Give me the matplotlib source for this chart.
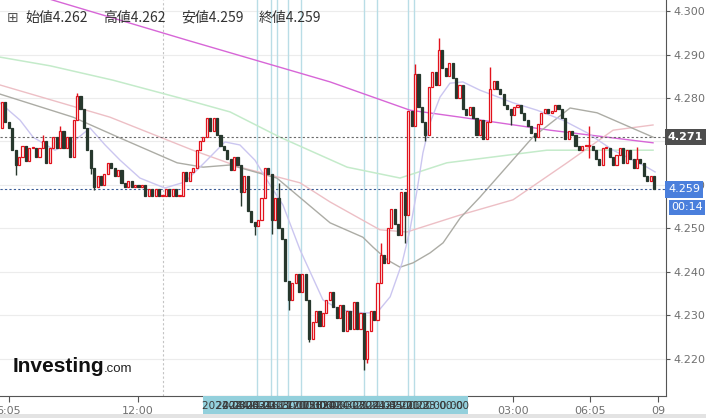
import matplotlib.pyplot as plt
import matplotlib.transforms as mtransforms
from matplotlib.patches import Rectangle

# candle closes (open = previous close)
open0 = 4.2730
close = [
    4.2790, 4.2745, 4.2730, 4.2680, 4.2645, 4.2665, 4.2690, 4.2655, 4.2685, 4.2685,
    4.2665, 4.2685, 4.2700, 4.2650, 4.2685, 4.2710, 4.2685, 4.2725, 4.2685, 4.2710,
    4.2665, 4.2750, 4.2805, 4.2775, 4.2730, 4.2680, 4.2640, 4.2595, 4.2620, 4.2600,
    4.2625, 4.2650, 4.2640, 4.2620, 4.2635, 4.2605, 4.2595, 4.2610, 4.2595, 4.2600,
    4.2595, 4.2600, 4.2575, 4.2590, 4.2575, 4.2590, 4.2575, 4.2575, 4.2590, 4.2575,
    4.2590, 4.2575, 4.2575, 4.2630, 4.2610, 4.2630, 4.2640, 4.2680, 4.2700, 4.2710,
    4.2755, 4.2725, 4.2755, 4.2715, 4.2690, 4.2680, 4.2660, 4.2635, 4.2665, 4.2645,
    4.2585, 4.2620, 4.2540, 4.2515, 4.2505, 4.2520, 4.2570, 4.2640, 4.2625, 4.2520,
    4.2570, 4.2500, 4.2475, 4.2380, 4.2335, 4.2375, 4.2395, 4.2355, 4.2395, 4.2335,
    4.2245, 4.2285, 4.2310, 4.2275, 4.2305, 4.2335, 4.2355, 4.2320, 4.2295, 4.2325,
    4.2265, 4.2310, 4.2270, 4.2330, 4.2270, 4.2305, 4.2200, 4.2265, 4.2310, 4.2290,
    4.2375, 4.2440, 4.2420, 4.2500, 4.2545, 4.2510, 4.2485, 4.2585, 4.2530, 4.2770,
    4.2735, 4.2855, 4.2780, 4.2745, 4.2715, 4.2825, 4.2860, 4.2830, 4.2910, 4.2870,
    4.2850, 4.2880, 4.2845, 4.2800, 4.2830, 4.2775, 4.2760, 4.2780, 4.2755, 4.2715,
    4.2750, 4.2705, 4.2745, 4.2820, 4.2840, 4.2820, 4.2810, 4.2785, 4.2775, 4.2760,
    4.2780, 4.2785, 4.2765, 4.2750, 4.2735, 4.2720, 4.2710, 4.2740, 4.2765, 4.2775,
    4.2765, 4.2770, 4.2785, 4.2775, 4.2755, 4.2705, 4.2725, 4.2715, 4.2690, 4.2680,
    4.2690, 4.2690, 4.2690, 4.2680, 4.2660, 4.2645, 4.2685, 4.2685, 4.2665, 4.2645,
    4.2670, 4.2685, 4.2650, 4.2680, 4.2660, 4.2640, 4.2660, 4.2650, 4.2620, 4.2610,
    4.2620, 4.2590,
]
# visible wicks only where they stick out of the body
wick_high = {3: 4.2712, 12: 4.2715, 17: 4.2735, 22: 4.2812, 81: 4.2605, 111: 4.2467,
             121: 4.2878, 128: 4.2938, 143: 4.2872, 172: 4.2735, 186: 4.2688}
wick_low = {4: 4.2622, 26: 4.2625, 27: 4.2588, 70: 4.2552, 74: 4.2484, 79: 4.2488,
            84: 4.2312, 90: 4.2238, 106: 4.2175, 107: 4.2190, 118: 4.2467, 124: 4.2700,
            149: 4.2738, 156: 4.2700, 172: 4.2662}

# moving averages (candle index, price)
ma_fast_x = [-0.6, 5.3, 9.1, 15.5, 21.4, 25.8, 30.2, 34.6, 40.4, 47.7, 53.6, 59.5, 65.3, 69.7,
             74.1, 78.5, 82.3, 87.3, 94.0, 99.0, 105.7, 109.8, 113.7, 117.2, 119.5, 121.6,
             123.3, 125.4, 128.3, 131.2, 135.0, 140.0, 149.7, 156.7, 164.3, 171.4, 179.0,
             188.9, 191.3]
ma_fast_y = [4.2789, 4.2749, 4.2710, 4.2680, 4.2703, 4.2731, 4.2692, 4.2657, 4.2616, 4.2593,
             4.2607, 4.2653, 4.2699, 4.2692, 4.2657, 4.2600, 4.2554, 4.2451, 4.2336, 4.2313,
             4.2306, 4.2306, 4.2343, 4.2421, 4.2497, 4.2589, 4.2674, 4.2743, 4.2802, 4.2834,
             4.2837, 4.2818, 4.2789, 4.2772, 4.2749, 4.2720, 4.2680, 4.2641, 4.2630]
ma_gray_x = [-0.6, 20.8, 34.6, 51.3, 58.9, 66.8, 80.5, 96.1, 105.7, 108.7, 112.8, 116.6,
             120.4, 125.4, 129.2, 134.2, 140.0, 155.5, 166.4, 174.3, 190.7]
ma_gray_y = [4.2809, 4.2756, 4.2708, 4.2651, 4.2641, 4.2646, 4.2616, 4.2513, 4.2480, 4.2457,
             4.2428, 4.2411, 4.2421, 4.2444, 4.2467, 4.2524, 4.2572, 4.2710, 4.2777, 4.2766,
             4.2710]
ma_pink_x = [-0.6, 31.6, 55.9, 69.7, 87.3, 96.1, 110.7, 118.6, 134.2, 149.7, 165.5, 179.0, 190.7]
ma_pink_y = [4.2830, 4.2756, 4.2680, 4.2641, 4.2605, 4.2561, 4.2497, 4.2492, 4.2531, 4.2566,
             4.2651, 4.2726, 4.2738]
ma_green_x = [-0.6, 14.1, 32.5, 52.1, 66.8, 81.4, 101.1, 116.6, 130.3, 159.6, 190.7]
ma_green_y = [4.2894, 4.2874, 4.2841, 4.2800, 4.2768, 4.2710, 4.2641, 4.2616, 4.2651, 4.2680,
              4.2680]
ma_slow_x = [-2.0, 14.9, 54.2, 96.1, 119.5, 134.2, 160.5, 190.7]
ma_slow_y = [4.3067, 4.3025, 4.2933, 4.2837, 4.2772, 4.2756, 4.2726, 4.2697]

# economic events (candle index) and their labels
event_pos = [74.8, 78.7, 80.5, 83.9, 87.6, 106.1, 109.8, 119.0, 120.8]
event_labels = ["2024-03-21 16:30:00", "2024-03-21 17:00:00", "2024-03-21 17:15:00",
                "2024-03-21 17:30:00", "2024-03-21 18:00:00", "2024-03-21 21:45:00",
                "2024-03-21 22:00:00", "2024-03-21 23:00:00", "2024-03-21 23:00:00"]
day_sep = 47.2

tick_pos = [2.0, 39.8, 149.7, 172.2, 192.2]
tick_labels = ["6:05", "12:00", "03:00", "06:05", "09"]
y_ticks = [4.22, 4.23, 4.24, 4.25, 4.26, 4.27, 4.28, 4.29, 4.30]

prev_close_line = 4.271
last_price = 4.259
countdown = "00:14"
legend_items = [("始値", "4.262"), ("高値", "4.262"), ("安値", "4.259"), ("終値", "4.259")]

UP = "#e2121c"
DOWN = "#27382d"

fig = plt.figure(figsize=(7.06, 4.18), dpi=100)
ax = fig.add_axes([0, 22 / 418, 666 / 706, 396 / 418])
ax.set_xlim(-0.586, 194.5)
ax.set_ylim(4.21149, 4.30253)

for y in y_ticks:
    ax.axhline(y, color="#ececec", lw=0.8, zorder=0)
ax.axvline(day_sep, color="#c4c4c4", lw=0.8, ls=(0, (2, 2)), zorder=0)
for p in event_pos:
    ax.axvline(p, color="#b9dde6", lw=1.0, zorder=1)

ax.plot(ma_slow_x, ma_slow_y, color="#d766d7", lw=1.0, zorder=2)
ax.plot(ma_green_x, ma_green_y, color="#c4ebca", lw=1.1, zorder=2)
ax.plot(ma_pink_x, ma_pink_y, color="#edbfc5", lw=1.0, zorder=2)
ax.plot(ma_gray_x, ma_gray_y, color="#acaca5", lw=1.0, zorder=2)
ax.plot(ma_fast_x, ma_fast_y, color="#cbc6f0", lw=1.0, zorder=2)

ax.axhline(prev_close_line, color="#6a6a6a", lw=0.8, ls=(0, (2, 2)), zorder=2)
ax.axhline(last_price, color="#3c5c96", lw=0.8, ls=(0, (2, 2)), zorder=2)

opens = [open0] + close[:-1]
for i in range(len(close)):
    o = opens[i]
    c = close[i]
    up = c >= o
    col = UP if up else DOWN
    hi = wick_high.get(i, max(o, c))
    lo = wick_low.get(i, min(o, c))
    if hi > max(o, c) or lo < min(o, c):
        ax.vlines(i, lo, hi, color=col, lw=1.0, zorder=3)
    h = max(abs(c - o), 0.00015)
    ax.bar(i, h, bottom=min(o, c), width=0.62, facecolor="white" if up else DOWN,
           edgecolor=col, lw=0.9, zorder=4)

for s in ["top", "left"]:
    ax.spines[s].set_visible(False)
for s in ["right", "bottom"]:
    ax.spines[s].set_color("#555555")
ax.yaxis.tick_right()
ax.set_yticks(y_ticks)
ax.set_yticklabels([f"{v:.3f}" for v in y_ticks])
ax.set_xticks(tick_pos)
ax.set_xticklabels(tick_labels)
ax.tick_params(axis="both", colors="#555555", labelcolor="#707070", labelsize=8, length=4)
ax.tick_params(axis="y", pad=2, length=3)
ax.tick_params(axis="x", pad=3)

# price tags on the right
tr = mtransforms.blended_transform_factory(ax.transAxes, ax.transData)
ax.text(1.003, prev_close_line, f"{prev_close_line:.3f}", transform=tr, color="white",
        fontsize=8, fontweight="bold", va="center", ha="left",
        bbox=dict(boxstyle="square,pad=0.3", fc="#4e4e4e", ec="none"))
ax.text(1.003, last_price, f"{last_price:.3f}", transform=tr, color="white",
        fontsize=8, va="center", ha="left",
        bbox=dict(boxstyle="square,pad=0.3", fc="#4a7fdc", ec="none"))
ax.annotate(countdown, (1.008, last_price), xycoords=tr, xytext=(0, -13),
            textcoords="offset points", color="white", fontsize=8, va="center", ha="left",
            bbox=dict(boxstyle="square,pad=0.2", fc="#4a7fdc", ec="none"), annotation_clip=False)

# event box under the axis
trx = mtransforms.blended_transform_factory(ax.transData, ax.transAxes)
ax.add_patch(Rectangle((58.9, -0.048), 77.6, 0.048, transform=trx, facecolor="#93d0dc",
                       edgecolor="none", clip_on=False, zorder=5))
for p, lab in zip(event_pos, event_labels):
    ax.text(p, -0.026, lab, transform=trx, fontsize=7.5, color="#3a3a3a", ha="center",
            va="center", zorder=6, clip_on=False)

# legend line at the top
cjk = ["Noto Sans CJK JP", "DejaVu Sans"]
fig.text(7 / 706, 1 - 18 / 418, "⊞", fontsize=10, color="#555555", va="center",
         family=["DejaVu Sans"])
lx = 25
for name, val in legend_items:
    fig.text(lx / 706, 1 - 18 / 418, name + val, fontsize=10, color="#333333",
             va="center", family=cjk)
    lx += 78

# logo
fig.text(13 / 706, 1 - 372 / 418, "Investing", fontsize=15, fontweight="bold",
         color="#111111", va="baseline", family=["Liberation Sans"])
fig.text(104 / 706, 1 - 372 / 418, ".com", fontsize=9.5, color="#222222",
         va="baseline", family=["Liberation Sans"])

fig.patches.append(Rectangle((0, 0), 1, 4 / 418, transform=fig.transFigure,
                             facecolor="#e3e3e3", edgecolor="none"))

fig.savefig("out.png", dpi=100)
